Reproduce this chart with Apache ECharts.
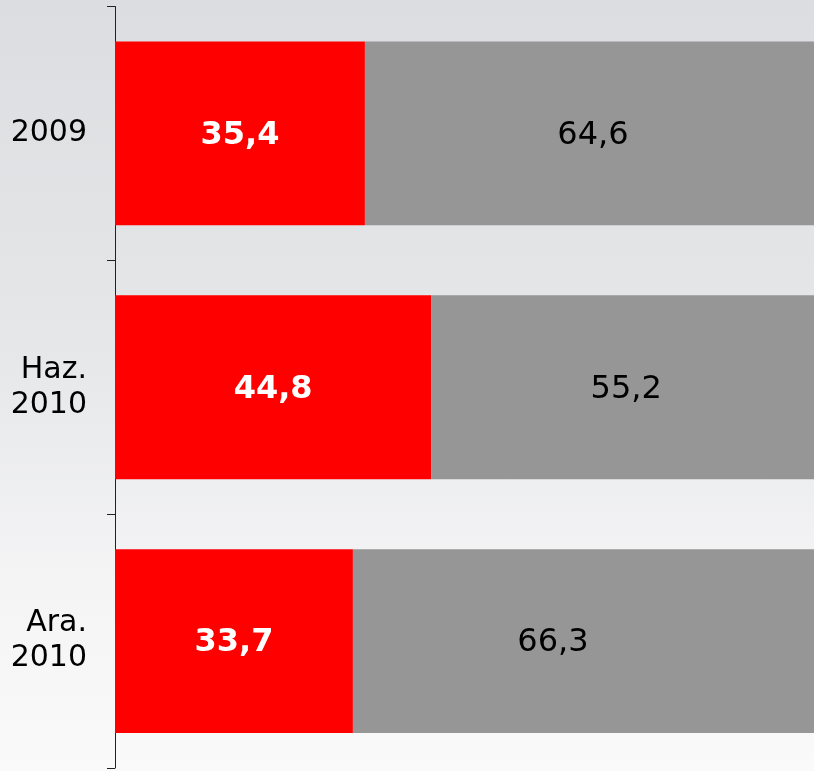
<!DOCTYPE html>
<html>
<head>
<meta charset="utf-8">
<script src="https://cdn.jsdelivr.net/npm/echarts@6/dist/echarts.min.js"></script>
<style>
    html, body { margin: 0; padding: 0; overflow: hidden; }
    body { width: 814px; height: 771px; background: linear-gradient(to bottom, #dcdde0 0%, #e6e7e9 45%, #f4f4f5 75%, #fafafa 100%); }
    #chart { width: 821px; height: 771px; }
</style>
</head>
<body>
<div id="chart"></div>
<script>
var categories = ['2009', 'Haz.\n2010', 'Ara.\n2010'];
var redValues = [35.4, 44.8, 33.7];
var greyValues = [64.6, 55.2, 66.3];

var fmt = function (p) {
    return String(p.value).replace('.', ',');
};

// last grey label sits left of centre in the original
var greyData = greyValues.map(function (v, i) {
    if (i === 2) return { value: v, label: { offset: [-34, 2] } };
    return v;
});

// the 100% end sits a few px past the right edge, so the div is wider than the window
var chart = echarts.init(document.getElementById('chart'), null, { renderer: 'canvas' });
chart.setOption({
    backgroundColor: 'transparent',
    animation: false,
    textStyle: { fontFamily: 'DejaVu Sans' },
    grid: { left: 115, top: 6.5, right: 0, height: 761.5, containLabel: false },
    xAxis: {
        type: 'value',
        min: 0,
        max: 100,
        show: false
    },
    yAxis: {
        type: 'category',
        inverse: true,
        data: categories,
        axisLine: { show: true, lineStyle: { color: '#222', width: 1 } },
        axisTick: { show: true, length: 8, lineStyle: { color: '#222' } },
        axisLabel: {
            color: '#000',
            fontSize: 30,
            lineHeight: 35,
            margin: 28,
            padding: [4, 0, 0, 0],
            align: 'right',
            fontFamily: 'DejaVu Sans'
        }
    },
    series: [
        {
            name: 'red',
            type: 'bar',
            stack: 'total',
            barCategoryGap: '27.6%',
            data: redValues,
            itemStyle: { color: '#ff0000' },
            label: {
                show: true,
                position: 'inside',
                offset: [0, 2],
                formatter: fmt,
                color: '#fff',
                fontSize: 32,
                fontWeight: 'bold',
                fontFamily: 'DejaVu Sans'
            }
        },
        {
            name: 'grey',
            type: 'bar',
            stack: 'total',
            barCategoryGap: '27.6%',
            data: greyData,
            itemStyle: { color: '#969696' },
            label: {
                show: true,
                position: 'inside',
                offset: [0, 2],
                formatter: fmt,
                color: '#000',
                fontSize: 32,
                fontFamily: 'DejaVu Sans'
            }
        }
    ]
});
</script>
</body>
</html>
